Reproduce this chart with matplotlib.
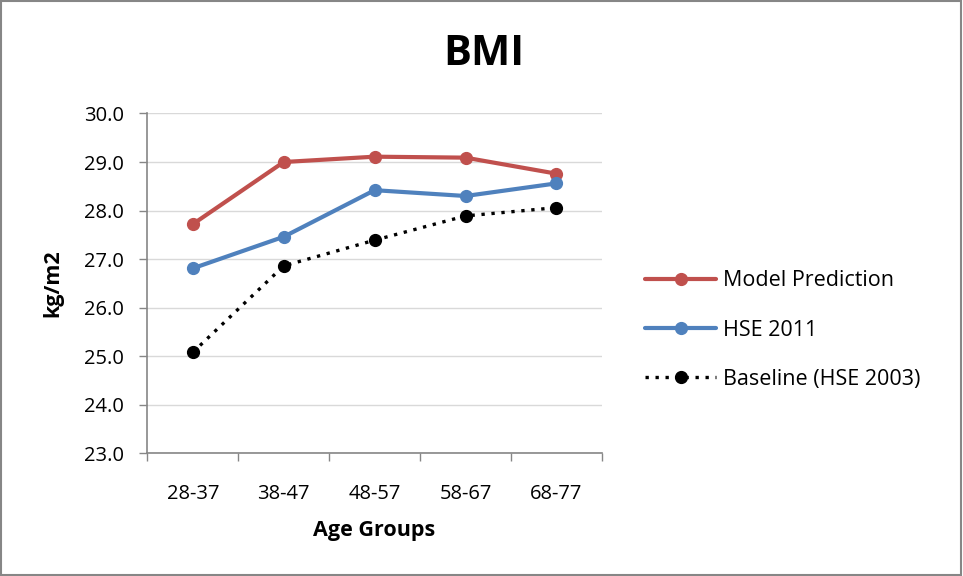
import matplotlib
matplotlib.use("Agg")
import matplotlib.pyplot as plt
from matplotlib.patches import Rectangle

categories = ["28-37", "38-47", "48-57", "58-67", "68-77"]
model_prediction = [27.72, 29.00, 29.11, 29.09, 28.76]
hse_2011 = [26.81, 27.46, 28.42, 28.30, 28.56]
baseline_2003 = [25.08, 26.86, 27.39, 27.89, 28.06]
y_ticks = [23.0, 24.0, 25.0, 26.0, 27.0, 28.0, 29.0, 30.0]

plt.rcParams['font.family'] = ['Open Sans', 'DejaVu Sans']

fig = plt.figure(figsize=(9.63, 5.76), dpi=100)
ax = fig.add_axes([0.153, 0.213, 0.472, 0.590])

x = list(range(len(categories)))
ax.plot(x, model_prediction, color='#C0504D', lw=3, marker='o', ms=8.5,
        label='Model Prediction', solid_capstyle='round', zorder=3)
ax.plot(x, hse_2011, color='#4F81BD', lw=3, marker='o', ms=8.5,
        label='HSE 2011', solid_capstyle='round', zorder=3)
ax.plot(x, baseline_2003, color='black', lw=2.4, ls=(0, (1, 2)), marker='o', ms=8.5,
        label='Baseline (HSE 2003)', zorder=3)

ax.set_xlim(-0.5, len(categories) - 0.5)
ax.set_ylim(23.0, 30.0)
ax.set_yticks(y_ticks)
ax.set_yticklabels([f"{v:.1f}" for v in y_ticks], fontsize=14.5)
ax.set_xticks(x)
ax.set_xticklabels(categories, fontsize=14.5)
ax.set_xticks([i - 0.5 for i in range(len(categories) + 1)], minor=True)
ax.tick_params(axis='x', which='major', length=0, pad=22)
ax.tick_params(axis='x', which='minor', length=6, color='#868686', width=1, direction='out')
ax.tick_params(axis='y', length=6, color='#868686', width=1, direction='out', pad=11)

ax.grid(axis='y', color='#d9d9d9', lw=1)
ax.set_axisbelow(True)
for s in ['top', 'right']:
    ax.spines[s].set_visible(False)
for s in ['left', 'bottom']:
    ax.spines[s].set_color('#868686')
    ax.spines[s].set_linewidth(1.2)

ax.set_xlabel('Age Groups', fontsize=15.5, fontweight='bold', labelpad=11.5)
ax.set_ylabel('kg/m2', fontsize=15.5, fontweight='bold', labelpad=15)

fig.text(0.502, 0.905, 'BMI', ha='center', va='center', fontsize=30, fontweight='bold')

leg = ax.legend(loc='center left', bbox_to_anchor=(0.650, 0.427), bbox_transform=fig.transFigure,
                frameon=False, fontsize=15.5, handlelength=3.3, handletextpad=0.33,
                labelspacing=1.31)

fig.patches.append(Rectangle((0.001, 0.001), 0.997, 0.997, transform=fig.transFigure,
                             fill=False, edgecolor='#868686', lw=1.5))

fig.savefig('out.png', dpi=100)
